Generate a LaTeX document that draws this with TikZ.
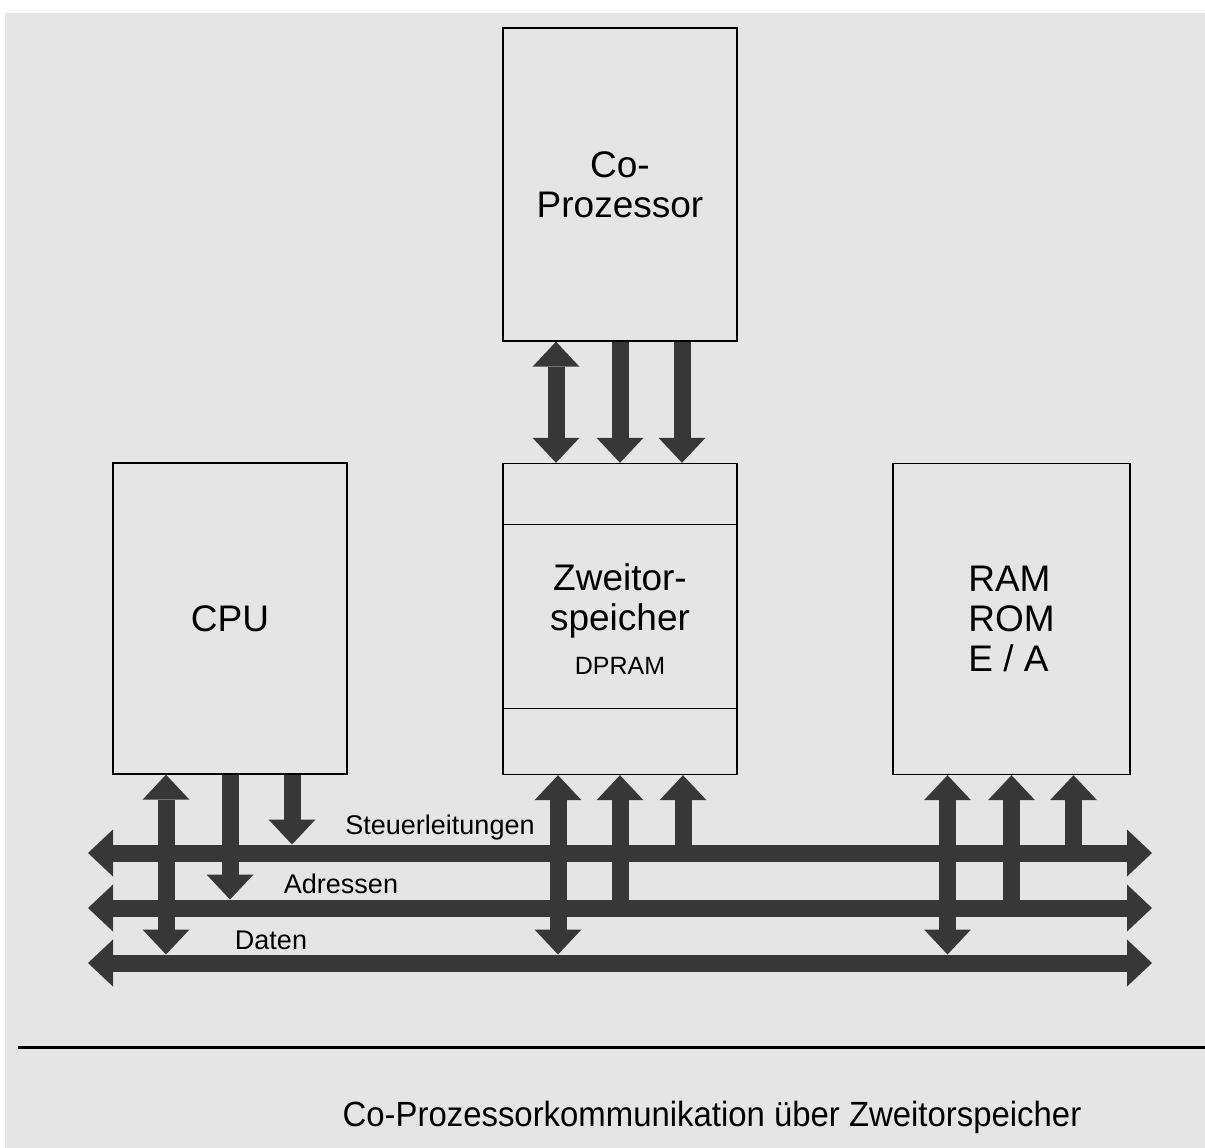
\documentclass[tikz,border=0pt]{standalone}
\usepackage{fontspec}
\usepackage{graphicx}
\setmainfont{Liberation Sans}
\usetikzlibrary{arrows.meta}
\definecolor{paper}{RGB}{229,229,229}
\definecolor{ink}{RGB}{55,55,55}
\begin{document}
\begin{tikzpicture}[x=1pt,y=-1pt,
  box/.style={draw=black,line width=1.4pt,minimum width=234pt,minimum height=311pt,inner sep=0pt,align=center,font=\fontsize{37}{40}\selectfont},
  fat/.style={draw=ink,line width=17pt,>={Triangle[width=47pt,length=25pt,line width=0pt]}},
  buslbl/.style={font=\fontsize{27}{30}\selectfont}]
\useasboundingbox (0,0) rectangle (1205,1148);
\fill[white] (0,0) rectangle (1205,1148);
\fill[paper] (5,13) rectangle (1205,1148);

% boxes
\node[box, minimum height=313pt] (cop) at (620,184.5) {Co-\\Prozessor};
\node[box] (cpu) at (230,618.5) {CPU};
\node[box] (dp) at (620,619) {Zweitor-\\speicher\\[4pt]{\fontsize{25}{25}\selectfont DPRAM}};
\node[box, minimum width=237pt, align=left] (ram) at (1011.5,619) {RAM\\ROM\\E / A};
\draw[line width=1.2pt] ([yshift=-62pt]dp.north west) -- ([yshift=-62pt]dp.north east);
\draw[line width=1.2pt] ([yshift=67pt]dp.south west) -- ([yshift=67pt]dp.south east);

% bus reference coordinates
\coordinate (stL) at (88,853);  \coordinate (stR) at (1152,853);
\coordinate (adL) at (88,908);  \coordinate (adR) at (1152,908);
\coordinate (daL) at (88,963);  \coordinate (daR) at (1152,963);
\coordinate (stT) at (0,844.5); \coordinate (adT) at (0,899.5); \coordinate (daT) at (0,954.5);

% buses
\draw[fat,<->] (stL) -- (stR);
\draw[fat,<->] (adL) -- (adR);
\draw[fat,<->] (daL) -- (daR);

% co-processor <-> DPRAM
\draw[fat,<->] ([xshift=-64pt]cop.south) -- ([xshift=-64pt]dp.north);
\draw[fat,->] (cop.south) -- (dp.north);
\draw[fat,->] ([xshift=62pt]cop.south) -- ([xshift=62pt]dp.north);

% CPU
\coordinate (cpuA) at ([xshift=-64pt]cpu.south);
\coordinate (cpuB) at (cpu.south);
\coordinate (cpuC) at ([xshift=62pt]cpu.south);
\draw[fat,<->] (cpuA) -- (cpuA |- daT);
\draw[fat,->] (cpuB) -- (cpuB |- adT);
\draw[fat,->] (cpuC) -- (cpuC |- stT);

% DPRAM
\coordinate (dpA) at ([xshift=-62pt]dp.south);
\coordinate (dpB) at (dp.south);
\coordinate (dpC) at ([xshift=63pt]dp.south);
\draw[fat,<->] (dpA) -- (dpA |- daT);
\draw[fat,->] (dpB |- adL) -- (dpB);
\draw[fat,->] (dpC |- stL) -- (dpC);

% RAM/ROM/E/A
\coordinate (ramA) at ([xshift=-64pt]ram.south);
\coordinate (ramB) at (ram.south);
\coordinate (ramC) at ([xshift=62pt]ram.south);
\draw[fat,<->] (ramA) -- (ramA |- daT);
\draw[fat,->] (ramB |- adL) -- (ramB);
\draw[fat,->] (ramC |- stL) -- (ramC);

% bus labels
\node[buslbl] (lst) at (440,828) {Steuerleitungen};
\node[buslbl] (lad) at (341,884) {Adressen};
\node[buslbl] (lda) at (271,940) {Daten};

% caption
\coordinate (lnL) at (18,1047); \coordinate (lnR) at (1205,1047);
\draw[line width=3pt] (lnL) -- (lnR);
\node[font=\fontsize{35}{40}\selectfont] (cap) at (712,1117) {\scalebox{0.94}[1]{Co-Prozessorkommunikation über Zweitorspeicher}};
\end{tikzpicture}
\end{document}
